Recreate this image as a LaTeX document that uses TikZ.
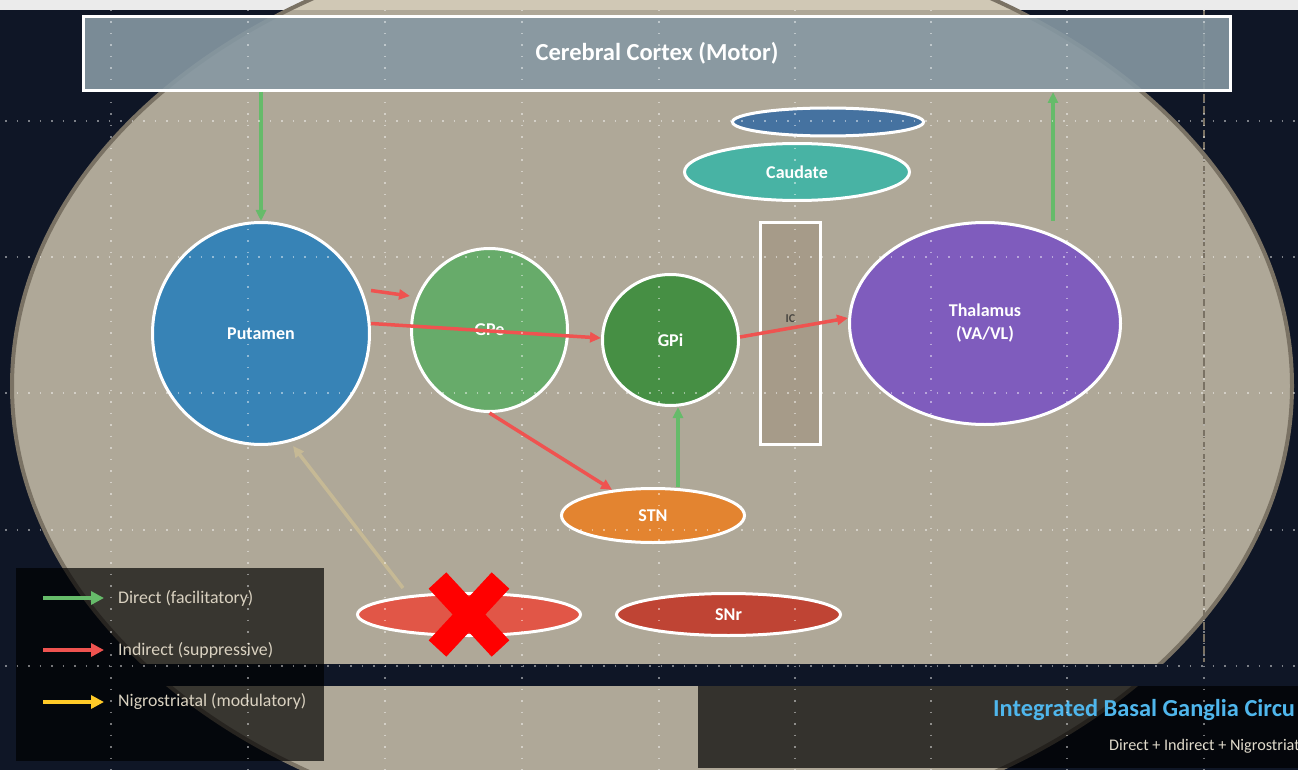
\documentclass[tikz,border=0pt]{standalone}
\usepackage{fontspec}
\setmainfont{Carlito}
\usetikzlibrary{shapes.geometric,arrows.meta}

\definecolor{bgnavy}{HTML}{0F1626}
\definecolor{topstrip}{HTML}{EBEBEB}
\definecolor{ellfill}{HTML}{CCC2AC}
\definecolor{elledge}{HTML}{7A7264}
\definecolor{cortexfill}{HTML}{8698A3}
\definecolor{striatumtop}{HTML}{4572A0}
\definecolor{caudatefill}{HTML}{48B3A4}
\definecolor{icfill}{HTML}{A69B89}
\definecolor{icgray}{HTML}{4A4742}
\definecolor{thalfill}{HTML}{7F5CBD}
\definecolor{putfill}{HTML}{3783B6}
\definecolor{gpefill}{HTML}{67AB6A}
\definecolor{gpifill}{HTML}{468F44}
\definecolor{stnfill}{HTML}{E38430}
\definecolor{sncfill}{HTML}{E15647}
\definecolor{snrfill}{HTML}{BF4434}
\definecolor{directgreen}{HTML}{66BB6A}
\definecolor{indirectred}{HTML}{EF5350}
\definecolor{nigroyellow}{HTML}{FFCA28}
\definecolor{nigrofade}{HTML}{C6B995}
\definecolor{legendtext}{HTML}{D9D1C0}
\definecolor{titleblue}{HTML}{4FB6EC}
\definecolor{subtext}{HTML}{E0DACB}

\begin{document}
\begin{tikzpicture}[x=1pt,y=-1pt,
    region/.style={ellipse,draw=white,line width=3pt,inner sep=0pt,text=white,font=\labelfont,align=center},
    pathdirect/.style={draw=directgreen,line width=3.5pt,-{Triangle[length=11pt,width=10pt]}},
    pathindirect/.style={pathdirect,draw=indirectred},
    pathnigro/.style={pathdirect,draw=nigrofade},
    legarrow/.style={line width=4.5pt,-{Triangle[length=13pt,width=13pt]}},
    legtext/.style={anchor=west,inner sep=0pt,text=legendtext,font=\legendfont},
    griddots/.style={white,opacity=0.45,line width=1.5pt,dash pattern=on 1.5pt off 10pt}]
    \providecommand{\labelfont}{\fontsize{18}{23}\selectfont\bfseries}
    \providecommand{\cortexfont}{\fontsize{24.5}{28}\selectfont\bfseries}
    \providecommand{\legendfont}{\fontsize{17.8}{21}\selectfont}
    \providecommand{\titlefont}{\fontsize{24.4}{28}\selectfont\bfseries}
    \providecommand{\subfont}{\fontsize{16.2}{19}\selectfont}
    \providecommand{\icfont}{\fontsize{12}{14}\selectfont\bfseries}
    \useasboundingbox (0,0) rectangle (1298,770);
    \clip (0,0) rectangle (1298,770);
    % backdrop
    \fill[bgnavy] (0,0) rectangle (1298,770);
    \fill[topstrip] (0,0) rectangle (1298,10);
    \fill[ellfill,fill opacity=0.85] (652,386) ellipse [x radius=640pt, y radius=457pt];
    \draw[elledge,line width=4pt] (652,386) ellipse [x radius=640pt, y radius=457pt];
    \draw[elledge,line width=2pt,dash pattern=on 8pt off 4pt] (1204,10) -- (1204,662);
    \fill[bgnavy] (0,664) rectangle (1298,686);

    \node[draw=white,line width=3pt,fill=cortexfill,fill opacity=0.9,text opacity=1,
          minimum width=1147pt,minimum height=74pt,inner sep=0pt,text=white,font=\cortexfont]
          (cortex) at (657,53.5) {Cerebral Cortex (Motor)};

    \node[region,fill=striatumtop,minimum width=191pt,minimum height=28pt] (striatum) at (828,122) {};
    \node[region,fill=caudatefill,minimum width=225pt,minimum height=57pt] (caudate) at (797,172) {Caudate};
    \node[draw=white,line width=3pt,fill=icfill,minimum width=60pt,minimum height=222pt,inner sep=0pt,
          label={[text=icgray,font=\icfont,yshift=15pt]center:IC}] (ic) at (790.5,333.5) {};
    \node[region,fill=thalfill,minimum width=271pt,minimum height=202pt] (thalamus) at (985,323.5) {Thalamus\\(VA/VL)};
    \node[region,fill=putfill,minimum width=217pt,minimum height=222pt] (putamen) at (261,333.5) {Putamen};
    \node[region,fill=gpefill,minimum width=156pt,minimum height=163pt] (gpe) at (489.5,330) {GPe};
    \node[region,fill=gpifill,minimum width=136pt,minimum height=131pt] (gpi) at (670.5,340) {GPi};
    \node[region,fill=stnfill,minimum width=183pt,minimum height=54pt] (stn) at (653,515.5) {STN};
    \node[region,fill=sncfill,minimum width=223pt,minimum height=42pt] (snc) at (469,614.5) {};
    \node[region,fill=snrfill,minimum width=224pt,minimum height=42pt] (snr) at (728.5,614.5) {SNr};

    % pathways
    \coordinate (thalout) at ([xshift=68pt]thalamus.north);
    \coordinate (stnout) at ([xshift=25pt]stn.north);
    \draw[pathdirect] (cortex.south -| putamen) -- (putamen.north);
    \draw[pathdirect] (thalout) -- (thalout |- cortex.south);
    \draw[pathindirect] ([yshift=43pt]putamen.east) -- ([yshift=34pt]gpe.west);
    \draw[pathindirect] ([yshift=10pt]putamen.east) -- ([yshift=2pt]gpi.west);
    \draw[pathindirect] (gpe.south) -- (stn);
    \draw[pathdirect] (stnout) -- (stnout |- gpi.south);
    \draw[pathindirect] ([yshift=3pt]gpi.east) -- ([yshift=5.5pt]thalamus.west);
    \draw[pathnigro] ([xshift=-66pt,yshift=4pt]snc.north) -- ([xshift=32pt]putamen.south);

    % lesion mark
    \draw[red,line width=24pt] (snc.center) ++(-31.5,-34) -- ++(63,68);
    \draw[red,line width=24pt] (snc.center) ++(31.5,-34) -- ++(-63,68);

    % legend
    \fill[black,opacity=0.68] (16,568) rectangle (324,761);
    \node[legtext] (legdirect) at (118,598) {Direct (facilitatory)};
    \node[legtext] (legindirect) at (118,650) {Indirect (suppressive)};
    \node[legtext] (legnigro) at (118,702) {Nigrostriatal (modulatory)};
    \draw[legarrow,directgreen] ([xshift=-75pt]legdirect.west) -- ([xshift=-14pt]legdirect.west);
    \draw[legarrow,indirectred] ([xshift=-75pt]legindirect.west) -- ([xshift=-14pt]legindirect.west);
    \draw[legarrow,nigroyellow] ([xshift=-75pt]legnigro.west) -- ([xshift=-14pt]legnigro.west);

    % title
    \fill[black,opacity=0.7] (698,686) rectangle (1298,768);
    \node[anchor=west,inner sep=0pt,text=titleblue,font=\titlefont] (title) at (993,710) {Integrated Basal Ganglia Circu};
    \node[anchor=west,inner sep=0pt,text=subtext,font=\subfont] (subtitle) at (1109,746) {Direct + Indirect + Nigrostriat};

    % guide grid
    \foreach \gx in {111,248,385,522,659,795,931,1067,1204}
        \draw[griddots] (\gx,10) -- (\gx,770);
    \foreach \gy in {121,257,393,530,666}
        \draw[griddots] (5,\gy) -- (1298,\gy);
\end{tikzpicture}
\end{document}
